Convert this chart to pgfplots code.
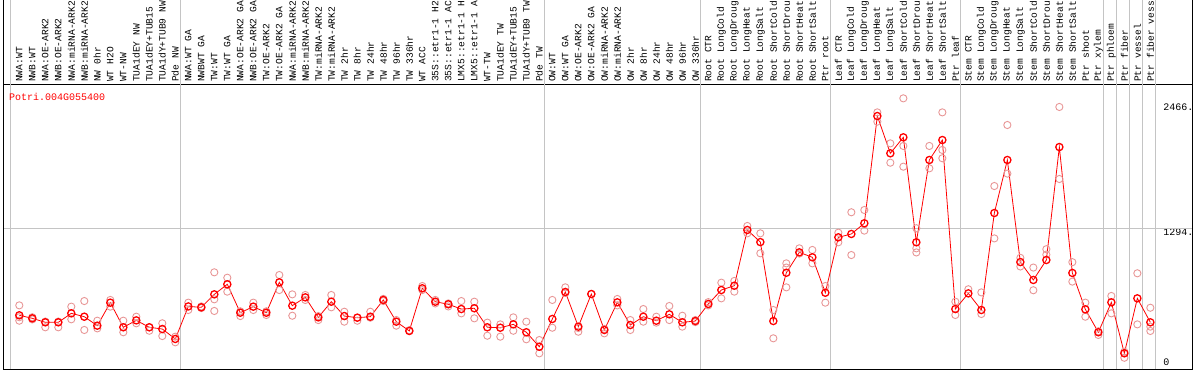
\documentclass[border=0pt]{standalone}
\usepackage{pgfplots}
\pgfplotsset{compat=1.18}
\usepackage{pgfplotstable}
\usepackage{fontspec}
\setmainfont{Liberation Mono}
\setmonofont{Liberation Mono}
\definecolor{reppink}{RGB}{232,150,150}
\definecolor{sepgray}{RGB}{196,196,196}

\pgfplotstableread{
x y
0 488
1 460
2 423
3 423
4 506
5 475
6 392
7 605
8 377
9 441
10 377
11 361
12 269
13 570
14 562
15 682
16 775
17 512
18 568
19 512
20 793
21 577
22 654
23 469
24 614
25 481
26 466
27 475
28 630
29 429
30 343
31 738
32 614
33 590
34 546
35 553
36 377
37 373
38 404
39 331
40 197
41 454
42 704
43 383
44 685
45 352
46 608
47 398
48 475
49 438
50 497
51 423
52 435
53 593
54 722
55 762
56 1278
57 1166
58 435
59 882
60 1071
61 1025
62 697
63 1210
64 1241
65 1340
66 2333
67 1988
68 2136
69 1164
70 1926
71 2111
72 546
73 691
74 537
75 1435
76 1926
77 981
78 815
79 1000
80 2046
81 880
82 543
83 331
84 608
85 136
86 645
87 423
}\means

\pgfplotstableread{
x y
0 580
0 438
0 470
1 470
1 450
2 430
2 377
3 430
3 377
4 568
4 451
5 620
5 352
6 438
6 367
7 630
7 568
8 438
8 331
9 475
9 414
10 377
10 345
11 414
11 296
12 290
12 238
13 605
13 537
14 570
14 555
15 886
15 636
15 528
16 836
16 707
17 525
17 481
18 605
18 537
19 525
19 491
20 861
20 722
21 682
21 484
22 676
22 630
23 481
23 444
24 676
24 562
25 521
25 429
26 466
26 438
27 521
27 466
28 640
28 620
29 444
29 392
30 350
31 759
31 722
32 630
32 598
33 598
33 570
34 620
34 506
35 614
35 460
36 420
36 299
37 404
37 290
38 469
38 345
39 429
39 266
40 259
40 136
41 630
41 373
42 747
42 695
43 370
43 336
44 685
45 362
45 321
46 639
46 580
47 444
47 352
48 546
48 429
49 475
49 420
50 574
50 444
51 484
51 383
52 444
52 425
53 610
53 580
54 790
54 645
55 806
55 707
56 1315
56 1247
57 1247
57 1062
58 537
58 275
59 969
59 930
59 747
60 1108
60 1060
61 1093
61 969
62 759
62 605
63 1253
63 1164
64 1442
64 1046
65 1463
65 1272
66 2367
66 2281
67 2080
67 1901
68 2497
68 2056
68 1864
69 1294
69 1108
69 1070
70 2056
70 1849
71 2367
71 2019
71 1942
72 614
72 491
73 729
74 700
74 500
75 1685
75 1200
76 2250
76 1800
77 1020
77 940
78 930
78 720
79 1100
79 1050
80 2417
80 1750
81 980
81 800
82 605
82 475
83 340
83 306
84 667
84 506
85 150
85 95
86 877
86 404
87 558
87 383
87 343
}\reps

\begin{document}
\begin{tikzpicture}[x=1pt,y=1pt]
\useasboundingbox (0,0) rectangle (1194,370);
\begin{axis}[
  at={(3pt,1pt)}, anchor=south west, scale only axis,
  width=1189pt, height=284pt,
  xmin=-1.2538, xmax=90.2077, ymin=-9.259, ymax=2620.4,
  axis line style={black, line width=1pt},
  clip=false,
  major tick length=0pt,
  xtick={0,...,87},
  xticklabels={{NWA:WT},{NWB:WT},{NWA:OE-ARK2},{NWB:OE-ARK2},{NWA:miRNA-ARK2},{NWB:miRNA-ARK2},{NW 0hr},{WT H2O},{WT-NW},{TUA1dEY NW},{TUA1dEY+TUB15},{TUA1dY+TUB9 NW},{Pde NW},
  {NWA:WT GA},{NWBWT GA},{TW:WT},{TW:WT GA},{NWA:OE-ARK2 GA},{NWB:OE-ARK2 GA},{TW:OE-ARK2},{TW:OE-ARK2 GA},{NWA:miRNA-ARK2},{NWB:miRNA-ARK2},{TW:miRNA-ARK2},{TW:miRNA-ARK2},{TW 2hr},{TW 8hr},{TW 24hr},{TW 48hr},{TW 96hr},{TW 336hr},{WT ACC},{35S::etr1-1 H2},{35S::etr1-1 AC},{LMX5::etr1-1 H},{LMX5::etr1-1 A},{WT-TW},{TUA1dEY TW},{TUA1dEY+TUB15},{TUA1dY+TUB9 TW},{Pde TW},
  {OW:WT},{OW:WT GA},{OW:OE-ARK2},{OW:OE-ARK2 GA},{OW:miRNA-ARK2},{OW:miRNA-ARK2},{OW 2hr},{OW 8hr},{OW 24hr},{OW 48hr},{OW 96hr},{OW 336hr},
  {Root CTR},{Root LongCold},{Root LongDroug},{Root LongHeat},{Root LongSalt},{Root ShortCold},{Root ShortDrou},{Root ShortHeat},{Root ShortSalt},{Ptr root},
  {Leaf CTR},{Leaf LongCold},{Leaf LongDroug},{Leaf LongHeat},{Leaf LongSalt},{Leaf ShortCold},{Leaf ShortDrou},{Leaf ShortHeat},{Leaf ShortSalt},{Ptr leaf},
  {Stem CTR},{Stem LongCold},{Stem LongDroug},{Stem LongHeat},{Stem LongSalt},{Stem ShortCold},{Stem ShortDrou},{Stem ShortHeat},{Stem ShortSalt},{Ptr shoot},{Ptr xylem},
  {Ptr phloem},{Ptr fiber},{Ptr vessel},{Ptr fiber vess}},
  xticklabel pos=upper,
  xticklabel shift=3pt,
  xticklabel style={rotate=90, anchor=west, inner sep=0pt, font=\ttfamily\fontsize{9.6}{9.6}\selectfont},
  ytick={52.8,1259.3,2419.4},
  yticklabels={0,1294.,2466.},
  yticklabel pos=right,
  yticklabel style={anchor=west, inner sep=0pt, xshift=-29pt, font=\ttfamily\fontsize{10}{10}\selectfont},
  extra y ticks={1294},
  extra y tick labels={},
  extra y tick style={grid=major, major grid style={sepgray, line width=1pt}},
]
\pgfplotsinvokeforeach{-0.65,12.4,40.4,52.4,62.4,72.4,83.4,84.4,85.4,86.4,87.4}{
  \draw[sepgray, line width=1pt] (axis cs:#1,-9.259) -- ([yshift=85pt]axis cs:#1,2620.4);
}
\draw[black, line width=1pt] (rel axis cs:0,0) -- ([yshift=85pt]rel axis cs:0,1);
\draw[black, line width=1pt] (rel axis cs:1,0) -- ([yshift=85pt]rel axis cs:1,1);
\addplot[only marks, mark=o, mark size=3.6pt, color=reppink, mark options={line width=0.9pt}] table[x=x,y=y] {\reps};
\addplot[color=red, line width=0.8pt, mark=o, mark size=3.6pt, mark options={line width=1.3pt}] table[x=x,y=y] {\means};
\end{axis}
\node[anchor=west, inner sep=0pt, text=red, font=\ttfamily\fontsize{10}{10}\selectfont] at (9,273) {Potri.004G055400};
\end{tikzpicture}
\end{document}
